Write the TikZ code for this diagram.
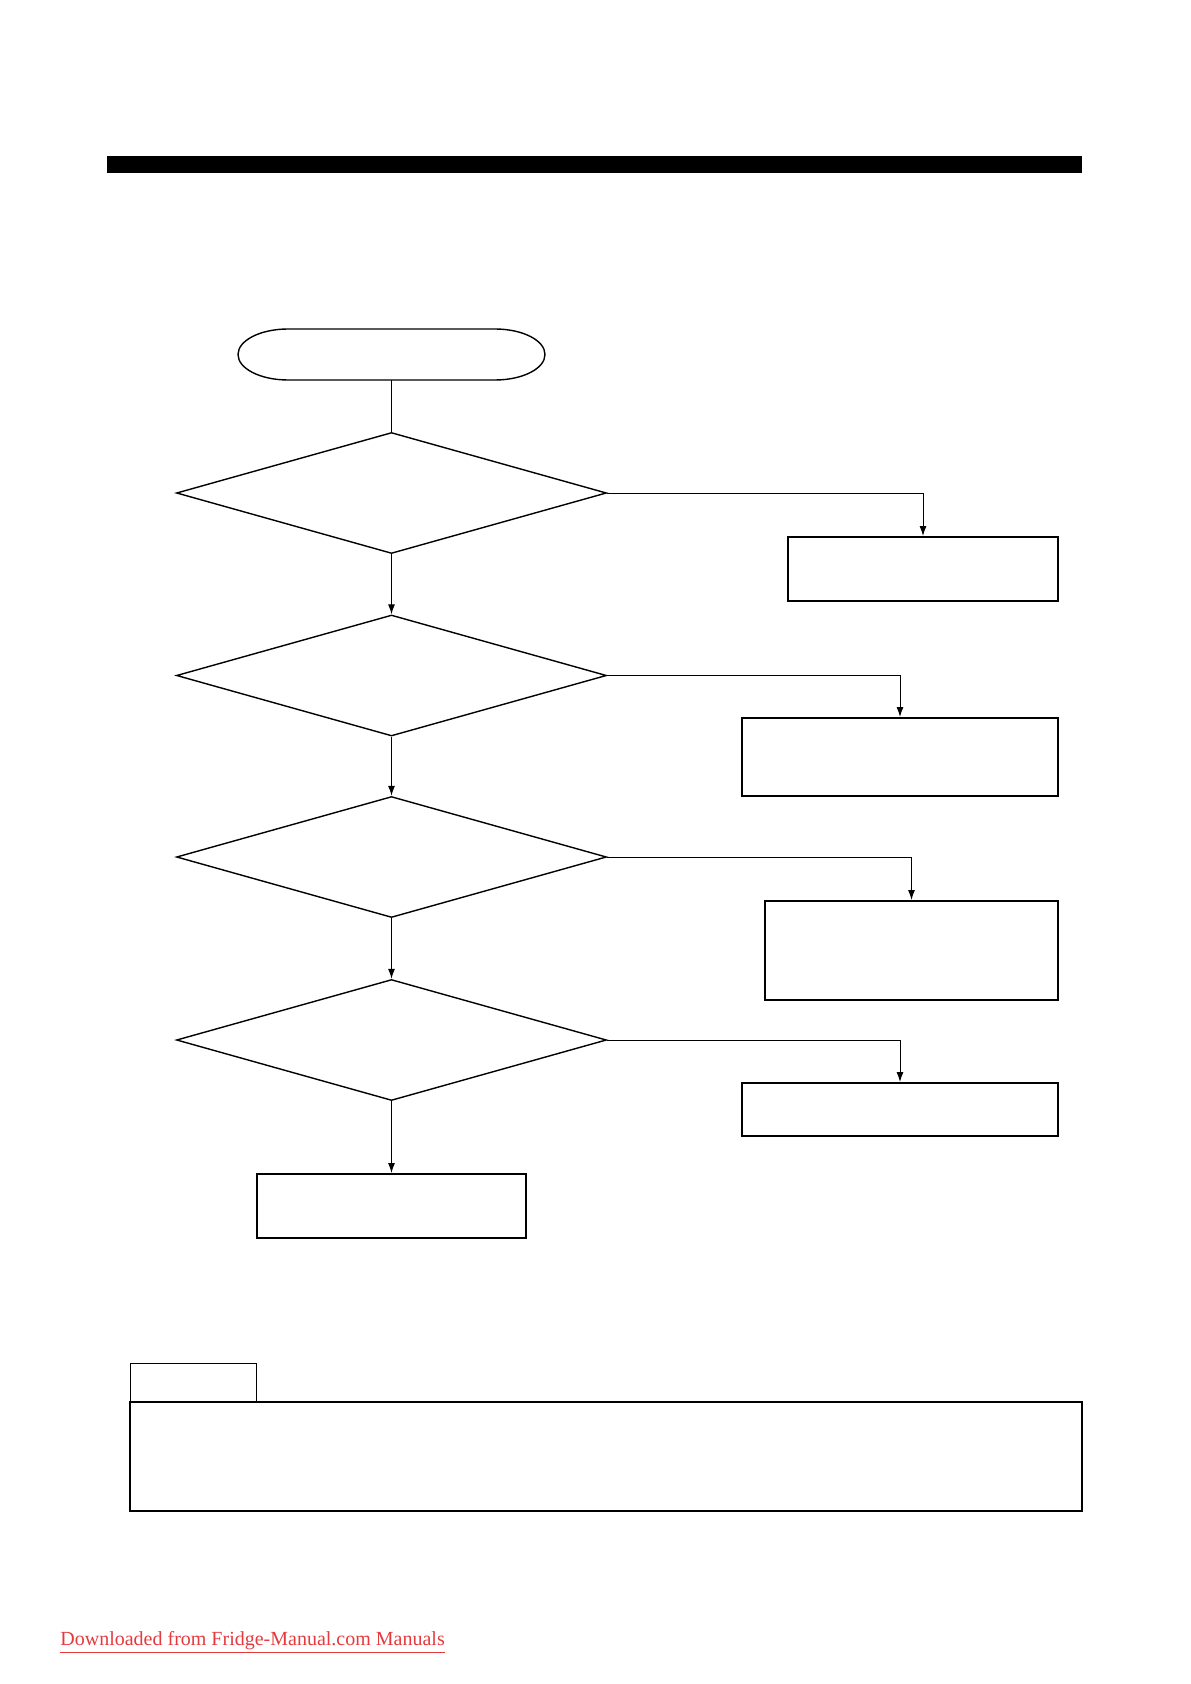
\documentclass[tikz,border=0pt]{standalone}
\usepackage{fontspec}
\setmainfont{Liberation Serif}
\usepackage{tikz}
\usetikzlibrary{shapes.geometric,arrows.meta,positioning}
\definecolor{linkred}{RGB}{228,58,62}
\tikzset{
  startnode/.style={rectangle,draw=none,minimum width=153.5pt,minimum height=25.5pt,inner sep=0pt},
  decnode/.style={diamond,draw=black,line width=0.7pt,minimum width=215pt,
    minimum height=60.5pt,inner sep=0pt},
  actnode/.style={rectangle,draw=black,line width=1pt,inner sep=0pt},
  arrow/.style={-{Latex[length=5pt,width=3.5pt]},line width=0.5pt},
  plainline/.style={line width=0.5pt},
}

\begin{document}
\begin{tikzpicture}[x=0.5pt,y=-0.5pt]
  \useasboundingbox (0,0) rectangle (1190,1684);

  % title bar
  \fill[black] (107,156) rectangle (1082,173);

  % main column
  \node[startnode] (start) at (391.5,354.5) {};
  \draw[line width=0.7pt] (288,329) -- (495,329)
    arc[start angle=90,end angle=-90,x radius=25pt,y radius=12.75pt] -- (288,380)
    arc[start angle=270,end angle=90,x radius=25pt,y radius=12.75pt] -- cycle;
  \node[decnode] (d1) at (391.5,493) {};
  \node[decnode] (d2) at (391.5,675.5) {};
  \node[decnode] (d3) at (391.5,857) {};
  \node[decnode] (d4) at (391.5,1040) {};
  \node[actnode, minimum width=134.5pt, minimum height=32pt] (fin) at (391.5,1206) {};

  % right column
  \node[actnode, minimum width=135pt, minimum height=32pt] (a1) at (923,569) {};
  \node[actnode, minimum width=158pt, minimum height=39pt] (a2) at (900,757) {};
  \node[actnode, minimum width=146.5pt, minimum height=49.5pt] (a3) at (911.5,950.5) {};
  \node[actnode, minimum width=158pt, minimum height=26.5pt] (a4) at (900,1109.5) {};

  \draw[plainline] (start)--(d1);
  \draw[arrow] (d1)--(d2);
  \draw[arrow] (d2)--(d3);
  \draw[arrow] (d3)--(d4);
  \draw[arrow] (d4)--(fin);

  \draw[arrow] (d1.east) -| (a1.north);
  \draw[arrow] (d2.east) -| (a2.north);
  \draw[arrow] (d3.east) -| (a3.north);
  \draw[arrow] (d4.east) -| (a4.north);

  % note
  \node[rectangle,draw=black,line width=0.5pt,minimum width=63pt,minimum height=19.5pt,
    inner sep=0pt] (tab) at (193,1382.5) {};
  \node[rectangle,draw=black,line width=1pt,minimum width=476pt,minimum height=54.5pt,
    inner sep=0pt] (note) at (606,1456.5) {};

  \node[anchor=base west,inner sep=0pt,text=linkred,font=\fontsize{10}{12}\selectfont]
    (foot) at (60,1645) {\underline{Downloaded from Fridge-Manual.com Manuals}};
\end{tikzpicture}
\end{document}
